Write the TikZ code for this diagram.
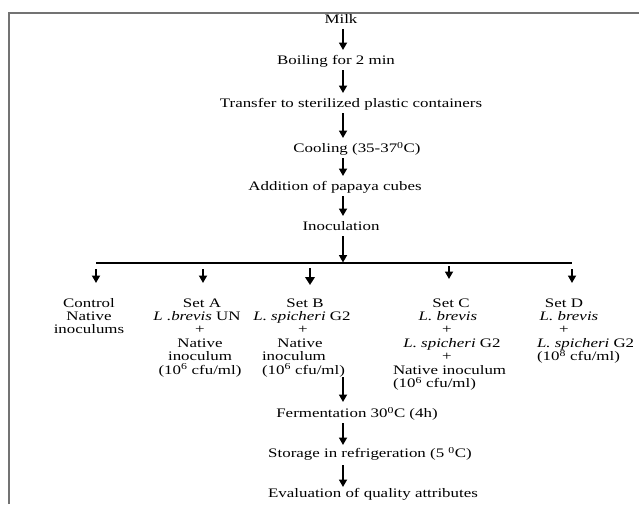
\documentclass[tikz,border=0pt]{standalone}
\usepackage{fontspec}
\setmainfont{Liberation Serif}[FakeStretch=1.3]
\usetikzlibrary{arrows.meta}
\begin{document}
\begin{tikzpicture}[x=1pt,y=-1pt,
  txt/.style={font=\fontsize{13}{13.4}\selectfont, inner sep=0pt, outer sep=0pt, text height=9pt, text depth=3pt, anchor=base},
  txtl/.style={txt, anchor=base west},
  arr/.style={line width=1.7pt, -{Triangle[width=8pt,length=7.5pt]}},
  bigarr/.style={line width=2.4pt, -{Triangle[width=9.5pt,length=8pt]}},
  chain/.style={arr, shorten <=2.5pt, shorten >=5.5pt},
  frame/.style={draw=black!55, line width=1.5pt}]
\useasboundingbox (0,0) rectangle (639,504);
% frame
\coordinate (fb) at (9,504);
\coordinate (fc) at (9,13);
\coordinate (fr) at (641,13);
\draw[frame] (fb) -- (fc) -- (fr);
% spine
\coordinate (sp) at (343,0);
% main chain
\node[txt] (milk) at (341,23.5) {Milk};
\node[txt] (boil) at (336,64.5) {Boiling for 2 min};
\node[txt] (trans) at (351,107.5) {Transfer to sterilized plastic containers};
\node[txt] (cool) at (357,152.5) {Cooling (35-37\textsuperscript{0}C)};
\node[txt] (add) at (335,190.5) {Addition of papaya cubes};
\node[txt] (inoc) at (341,230.5) {Inoculation};
\draw[chain] (sp |- milk.south) -- (sp |- boil.north);
\draw[chain] (sp |- boil.south) -- (sp |- trans.north);
\draw[chain] (sp |- trans.south) -- (sp |- cool.north);
\draw[chain] (sp |- cool.south) -- (sp |- add.north);
\draw[chain] (sp |- add.south) -- (sp |- inoc.north);
% split
\coordinate (hj) at (343,262.5);
\coordinate (hl1) at (96,263);
\coordinate (hl2) at (572,263);
\draw[arr, shorten <=2.5pt] (sp |- inoc.south) -- (hj);
\draw[line width=1.3pt] (hl1) -- (hl2);
\coordinate (c1t) at (96,269);  \coordinate (c1h) at (96,283);
\coordinate (c2t) at (203,269); \coordinate (c2h) at (203,283);
\coordinate (c3t) at (310,268); \coordinate (c3h) at (310,285);
\coordinate (c4t) at (449,266); \coordinate (c4h) at (449,279);
\coordinate (c5t) at (572,269); \coordinate (c5h) at (572,283);
\draw[arr] (c1t) -- (c1h);
\draw[arr] (c2t) -- (c2h);
\draw[bigarr] (c3t) -- (c3h);
\draw[arr] (c4t) -- (c4h);
\draw[arr] (c5t) -- (c5h);
% Control
\node[txt] (k1) at (89,307) {Control};
\node[txt] (k2) at (89,320.4) {Native};
\node[txt] (k3) at (89,333.8) {inoculums};
% Set A
\node[txt] (a1) at (202,307) {Set A};
\node[txt] (a2) at (197,320.4) {\textit{L .brevis} UN};
\node[txt] (a3) at (200,333.8) {+};
\node[txt] (a4) at (200,347.2) {Native};
\node[txt] (a5) at (200,360.6) {inoculum};
\node[txt] (a6) at (200,374) {(10\textsuperscript{6} cfu/ml)};
% Set B
\node[txt] (b1) at (305,307) {Set B};
\node[txt] (b2) at (302,320.4) {\textit{L. spicheri} G2};
\node[txt] (b3) at (303,333.8) {+};
\node[txt] (b4) at (300,347.2) {Native};
\node[txtl] (b5) at (262,360.6) {inoculum};
\node[txtl] (b6) at (262,374) {(10\textsuperscript{6} cfu/ml)};
% Set C
\node[txt] (s1) at (451,307) {Set C};
\node[txt] (s2) at (448,320.4) {\textit{L. brevis}};
\node[txt] (s3) at (447,333.8) {+};
\node[txt] (s4) at (452,347.2) {\textit{L. spicheri} G2};
\node[txt] (s5) at (447,360.6) {+};
\node[txtl] (s6) at (393,374) {Native inoculum};
\node[txtl] (s7) at (393,387.4) {(10\textsuperscript{6} cfu/ml)};
% Set D
\node[txt] (d1) at (564,307) {Set D};
\node[txt] (d2) at (569,320.4) {\textit{L. brevis}};
\node[txt] (d3) at (564,333.8) {+};
\node[txtl] (d4) at (537,347.2) {\textit{L. spicheri} G2};
\node[txtl] (d5) at (537,360.6) {(10\textsuperscript{8} cfu/ml)};
% lower chain
\node[txt] (ferm) at (357,417.5) {Fermentation 30\textsuperscript{0}C (4h)};
\node[txt] (stor) at (370,457.5) {Storage in refrigeration (5 \textsuperscript{0}C)};
\node[txt] (eval) at (373,497.5) {Evaluation of quality attributes};
\draw[arr, shorten >=6.5pt] (sp |- b6.south) -- (sp |- ferm.north);
\draw[arr, shorten <=2.5pt, shorten >=3.5pt] (sp |- ferm.south) -- (sp |- stor.north);
\draw[arr, shorten <=4.5pt, shorten >=1.5pt] (sp |- stor.south) -- (sp |- eval.north);
\end{tikzpicture}
\end{document}
